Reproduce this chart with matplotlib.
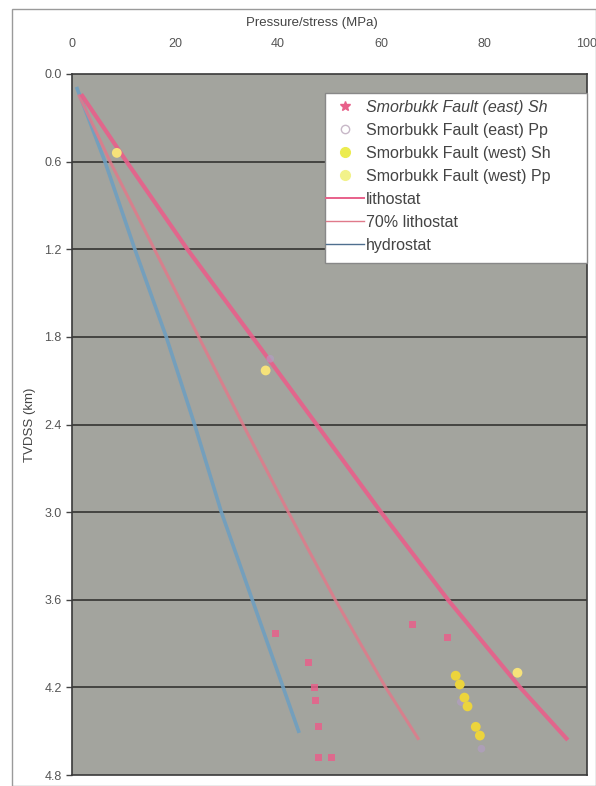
import matplotlib
matplotlib.use("Agg")
import matplotlib.pyplot as plt
from matplotlib.patches import Rectangle
from matplotlib.lines import Line2D

plt.rcParams['font.family'] = ['Liberation Sans', 'DejaVu Sans']

# ---- data ----
litho_depth = [0.15, 0.6, 1.2, 1.8, 2.4, 3.0, 3.6, 4.2, 4.55]
litho_press = [2.0, 10.6, 22.4, 35.0, 47.5, 60.0, 73.0, 87.0, 96.0]

litho70_depth = [0.15, 0.6, 1.2, 1.8, 2.4, 3.0, 3.6, 4.2, 4.55]
litho70_press = [1.4, 7.4, 16.0, 24.6, 33.2, 42.0, 51.1, 60.9, 67.2]

hydro_depth = [0.1, 0.6, 1.2, 1.8, 2.4, 3.0, 3.6, 4.2, 4.5]
hydro_press = [1.0, 6.4, 12.2, 18.3, 23.8, 29.0, 35.0, 41.0, 44.0]

east_sh_press = [46.0, 47.0, 47.3, 47.9, 47.9, 50.4, 39.6, 66.2, 73.0]
east_sh_depth = [4.03, 4.20, 4.29, 4.47, 4.68, 4.68, 3.83, 3.77, 3.86]

east_pp_press = [38.5, 75.5, 79.5]
east_pp_depth = [1.95, 4.30, 4.62]

west_sh_press = [74.5, 75.3, 76.2, 76.8, 78.4, 79.2]
west_sh_depth = [4.12, 4.18, 4.27, 4.33, 4.47, 4.53]

west_pp_press = [8.7, 37.6, 86.5]
west_pp_depth = [0.54, 2.03, 4.10]

x_ticks = [0, 20, 40, 60, 80, 100]
y_ticks = [0.0, 0.6, 1.2, 1.8, 2.4, 3.0, 3.6, 4.2, 4.8]

# ---- figure ----
W, H = 596, 786
fig = plt.figure(figsize=(W / 100, H / 100), dpi=100)
fig.patch.set_facecolor('white')

# outer chart border
fig.patches.append(Rectangle((12 / W, 0.0), (W - 12) / W, 1 - 9 / H,
                             transform=fig.transFigure, fill=False,
                             edgecolor='#9a9a9a', linewidth=1.0))

ax = fig.add_axes([72 / W, 1 - 775 / H, (587 - 72) / W, (775 - 74) / H])
ax.set_facecolor('#a3a49e')

ax.set_xlim(0, 100)
ax.set_ylim(4.8, 0.0)

pink = '#e8608a'
pink2 = '#e07a8a'
blue = '#6f9fc0'

ax.plot(hydro_press, hydro_depth, color=blue, lw=2.6, alpha=0.9, label='hydrostat', zorder=3)
ax.plot(litho70_press, litho70_depth, color=pink2, lw=2.2, alpha=0.85, label='70% lithostat', zorder=3)
ax.plot(litho_press, litho_depth, color=pink, lw=3.0, alpha=0.9, label='lithostat', zorder=3)

ax.scatter(east_sh_press, east_sh_depth, marker='s', s=26, color=pink, alpha=0.85,
           edgecolors='none', zorder=4, label='Smorbukk Fault (east) Sh')
ax.scatter(east_pp_press, east_pp_depth, marker='o', s=30, color='#b59cc9', alpha=0.6,
           edgecolors='none', zorder=4, label='Smorbukk Fault (east) Pp')
ax.scatter(west_sh_press, west_sh_depth, marker='o', s=50, color='#ecd43c',
           edgecolors='none', zorder=5, label='Smorbukk Fault (west) Sh')
ax.scatter(west_pp_press, west_pp_depth, marker='o', s=50, color='#f6e27a',
           edgecolors='none', zorder=5, label='Smorbukk Fault (west) Pp')

for y in y_ticks[1:-1]:
    ax.axhline(y, color='#3c3c3a', lw=1.3, zorder=2)

ax.xaxis.tick_top()
ax.xaxis.set_label_position('top')
ax.set_xticks(x_ticks)
ax.set_xticklabels([str(v) for v in x_ticks])
ax.set_yticks(y_ticks)
ax.set_yticklabels([f'{v:.1f}' for v in y_ticks])
ax.tick_params(axis='x', length=0, pad=17, labelsize=9, colors='#555555')
ax.tick_params(axis='y', length=4.5, width=1, direction='out', pad=3, labelsize=9,
               colors='#555555')
ax.tick_params(axis='y', color='#444444')
for s in ax.spines.values():
    s.set_color('#3a3a3a')
    s.set_linewidth(1.2)

ax.set_xlabel('Pressure/stress (MPa)', fontsize=9.5, color='#444444')
ax.xaxis.set_label_coords((312 - 72) / (587 - 72), 1 + (74 - 26) / (775 - 74))
ax.set_ylabel('TVDSS (km)', fontsize=9.5, color='#444444', labelpad=6)

# legend box drawn explicitly (white, grey edge)
fig.patches.append(Rectangle((325 / W, 1 - 263 / H), (587 - 325) / W, (263 - 93) / H,
                             transform=fig.transFigure, facecolor='white',
                             edgecolor='#888888', linewidth=1.0, zorder=6))

handles = [
    Line2D([], [], ls='none', marker='*', ms=7, color=pink),
    Line2D([], [], ls='none', marker='o', ms=6, markerfacecolor='none', markeredgecolor='#c8b8c8'),
    Line2D([], [], ls='none', marker='o', ms=7, color='#ecec50'),
    Line2D([], [], ls='none', marker='o', ms=7, color='#f2f28a'),
    Line2D([], [], color=pink, lw=1.4),
    Line2D([], [], color=pink2, lw=1.0),
    Line2D([], [], color='#4f6f8f', lw=1.0),
]
labels = ['Smorbukk Fault (east) Sh', 'Smorbukk Fault (east) Pp',
          'Smorbukk Fault (west) Sh', 'Smorbukk Fault (west) Pp',
          'lithostat', '70% lithostat', 'hydrostat']
leg = fig.legend(handles, labels, loc='upper left',
                 bbox_to_anchor=(326 / W, 1 - 100 / H),
                 fontsize=11.5, frameon=False, handlelength=2.35,
                 handletextpad=0.15, labelspacing=0.5, borderpad=0.0,
                 borderaxespad=0.0)
leg.set_zorder(7)
for t in leg.get_texts():
    t.set_color('#444444')
leg.get_texts()[0].set_style('italic')

fig.savefig('out.png', dpi=100)
